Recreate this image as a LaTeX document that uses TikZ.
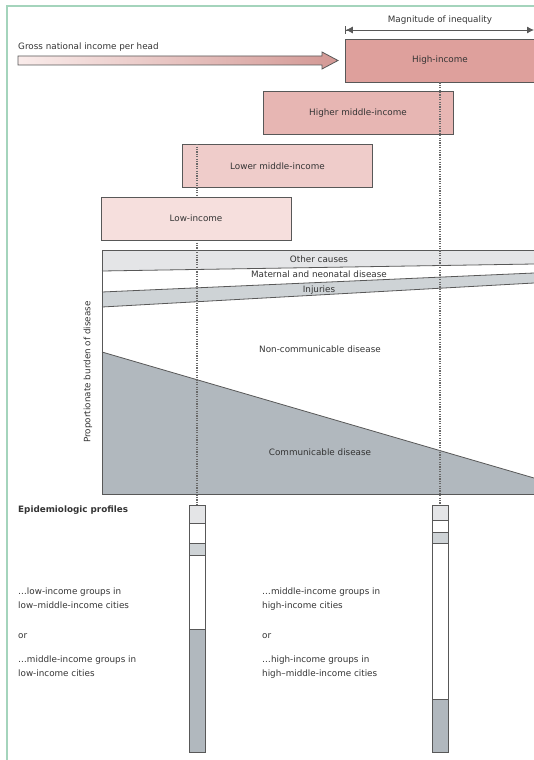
\documentclass[tikz,border=0pt]{standalone}
\usepackage{fontspec}
\setmainfont{DejaVu Sans}
\usetikzlibrary{arrows.meta,positioning}

\definecolor{frameline}{RGB}{164,212,188}
\definecolor{highinc}{RGB}{222,160,156}
\definecolor{highmid}{RGB}{231,182,179}
\definecolor{lowmid}{RGB}{239,204,202}
\definecolor{lowinc}{RGB}{246,223,221}
\definecolor{othergray}{RGB}{228,229,231}
\definecolor{injgray}{RGB}{206,211,214}
\definecolor{commgray}{RGB}{177,184,190}
\definecolor{edge}{RGB}{88,88,88}
\definecolor{txt}{RGB}{52,52,52}

\tikzset{
	incbox/.style={draw=edge,line width=0.8pt,minimum width=190pt,minimum height=43pt,inner sep=0pt,text=txt},
	lbl/.style={inner sep=0pt,text=txt},
	dotline/.style={draw=edge!90,line width=1.2pt,dash pattern=on 1.2pt off 1.2pt},
	barbox/.style={draw=edge,line width=0.8pt,minimum width=16pt,inner sep=0pt}
}

\begin{document}
\begin{tikzpicture}[x=1pt,y=-1pt,font=\fontsize{8.8}{14}\selectfont]
	\useasboundingbox (0,0) rectangle (534,760);
	\clip (0,0) rectangle (534,760);
	\def\chartL{102}
	\def\chartR{534}
	\def\epibar#1#2#3#4#5#6{
		\fill[othergray] (#2-8,505) rectangle (#2+8,#3);
		\fill[injgray] (#2-8,#4) rectangle (#2+8,#5);
		\fill[commgray] (#2-8,#6) rectangle (#2+8,752);
		\draw[edge,line width=0.8pt] (#2-8,#3) -- (#2+8,#3) (#2-8,#4) -- (#2+8,#4)
			(#2-8,#5) -- (#2+8,#5) (#2-8,#6) -- (#2+8,#6);
		\node[barbox,minimum height=247pt] (#1) at (#2,628.5) {};
	}
	\draw[frameline,line width=1.2pt] (7,760) -- (7,6) -- (534,6);

	% burden of disease
	\fill[othergray] (\chartL,250) -- (\chartR,250) -- (\chartR,264) -- (\chartL,271) -- cycle;
	\fill[injgray] (\chartL,292) -- (\chartR,273) -- (\chartR,283) -- (\chartL,307) -- cycle;
	\fill[commgray] (\chartL,352) -- (\chartR,478) -- (\chartR,494) -- (\chartL,494) -- cycle;
	\draw[edge,line width=0.8pt] (\chartR,250) -- (\chartL,250) -- (\chartL,494) -- (\chartR,494);
	\draw[edge,line width=0.8pt] (\chartL,271) -- (\chartR,264) (\chartL,292) -- (\chartR,273)
		(\chartL,307) -- (\chartR,283) (\chartL,352) -- (\chartR,478);
	\node[lbl] (oc) at (319,259) {Other causes};
	\node[lbl] (mat) at (319,274.5) {Maternal and neonatal disease};
	\node[lbl] (inj) at (319,290) {Injuries};
	\node[lbl] (ncd) at (320,349) {Non-communicable disease};
	\node[lbl] (comm) at (320,452) {Communicable disease};
	\node[lbl,rotate=90] (ylab) at (88,372) {Proportionate burden of disease};

	\node[lbl,anchor=base] (mag) at (440,23) {Magnitude of inequality};
	\coordinate (magL) at (345,30);
	\coordinate (magR) at (534,30);
	\draw[edge,line width=0.8pt,{Bar[width=8pt]Latex[length=7pt,width=7pt]}-{Latex[length=7pt,width=7pt]}] (magL) -- (magR);

	\node[lbl,anchor=base west] (gni) at (18,49) {Gross national income per head};
	\shadedraw[draw=edge,line width=0.8pt,left color=lowinc!60,right color=highinc!95!black]
		(18,56) -- (322,56) -- (322,52) -- (338,60.5) -- (322,69) -- (322,65) -- (18,65) -- cycle;

	\node[incbox,fill=highinc] (high) at (440,60.5) {High-income};
	\node[incbox,fill=highmid] (highmid) at (358,113) {Higher middle-income};
	\node[incbox,fill=lowmid] (lowmid) at (277.5,166) {Lower middle-income};

	\epibar{barL}{197}{523}{543}{555}{629}
	\epibar{barR}{440}{520}{532}{543}{699}

	\draw[dotline] (high.south) -- (barR.north);
	\draw[dotline] (lowmid.north -| barL.north) -- (barL.north);
	\node[incbox,fill=lowinc] (low) at (196,218.5) {Low-income};

	\node[lbl,anchor=base west,font=\fontsize{8.8}{14}\selectfont\bfseries] (epi) at (18,512) {Epidemiologic profiles};
	\node[lbl,anchor=north west,align=left] (lowgrp) at (18,588) {…low-income groups in\\low–middle-income cities};
	\node[lbl,anchor=base west] (orL) at (18,638) {or};
	\node[lbl,anchor=north west,align=left] (midgrpL) at (18,656) {…middle-income groups in\\low-income cities};
	\node[lbl,anchor=north west,align=left] (midgrpR) at (262,588) {…middle-income groups in\\high-income cities};
	\node[lbl,anchor=base west] (orR) at (262,638) {or};
	\node[lbl,anchor=north west,align=left] (highgrp) at (262,656) {…high-income groups in\\high–middle-income cities};
\end{tikzpicture}
\end{document}
